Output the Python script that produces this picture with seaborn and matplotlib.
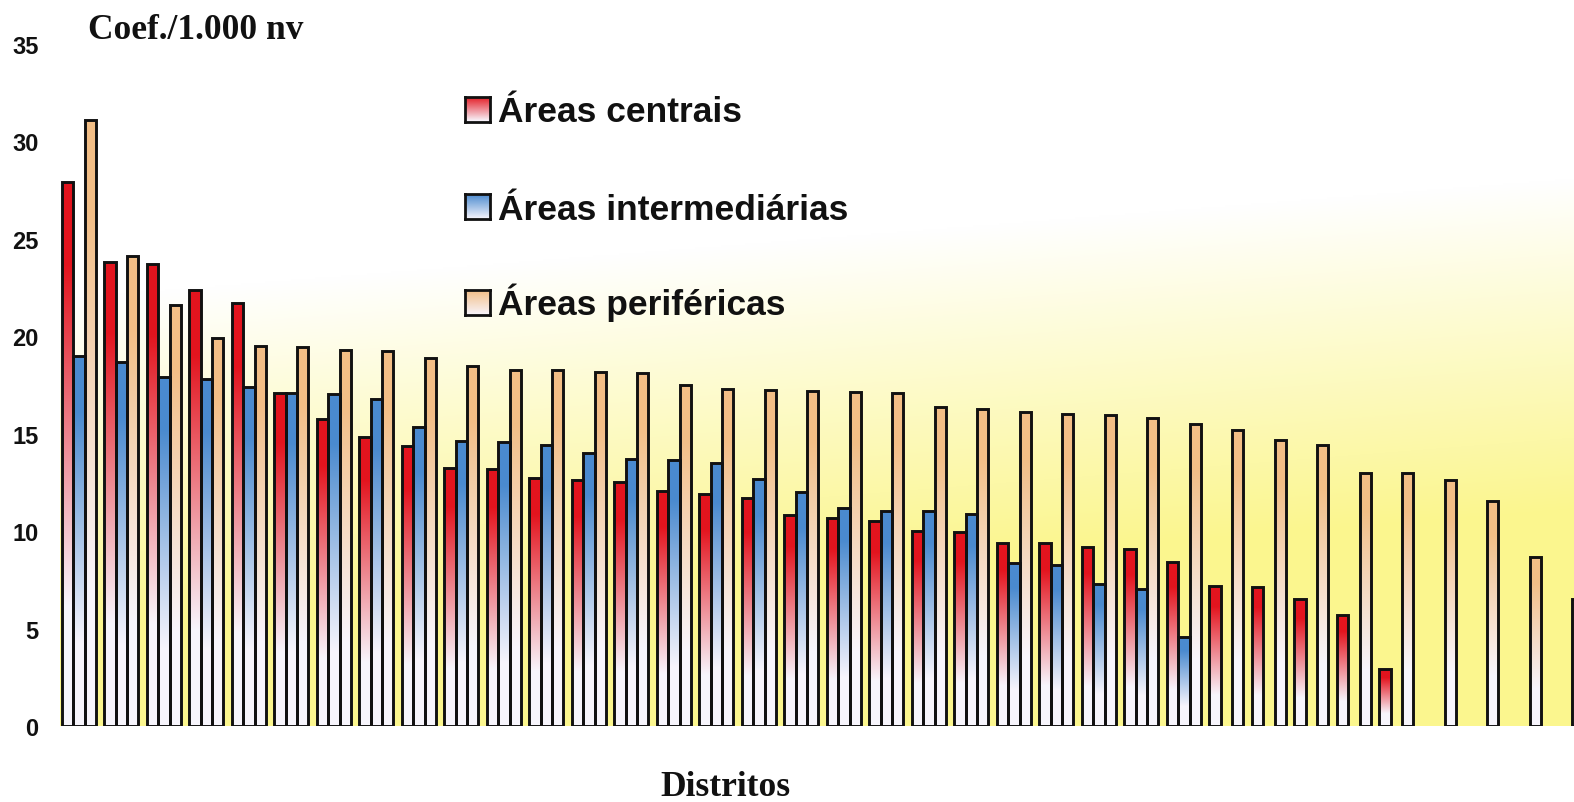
import numpy as np
import pandas as pd
import matplotlib
matplotlib.use("Agg")
import matplotlib.pyplot as plt
import matplotlib.colors as mcolors
import seaborn as sns

nan = np.nan

# District positions along the horizontal axis (labels are not printed)
distritos = [str(i) for i in range(1, 37)]

# Coefficient per 1,000 live births, by district and area type
centrais = [27.9, 23.8, 23.7, 22.4, 21.7, 17.1, 15.75, 14.85, 14.35, 13.25,
            13.2, 12.75, 12.65, 12.5, 12.05, 11.9, 11.7, 10.85, 10.7, 10.5,
            10.0, 9.95, 9.4, 9.4, 9.2, 9.1, 8.4, 7.2, 7.15, 6.5,
            5.7, 2.9, nan, nan, nan, nan]
intermediarias = [19.0, 18.7, 17.9, 17.8, 17.4, 17.1, 17.05, 16.8, 15.35, 14.65,
                  14.55, 14.4, 14.0, 13.7, 13.65, 13.5, 12.7, 12.0, 11.2, 11.05,
                  11.05, 10.9, 8.35, 8.25, 7.3, 7.05, 4.55, nan, nan, nan,
                  nan, nan, nan, nan, nan, nan]
perifericas = [31.1, 24.1, 21.6, 19.9, 19.5, 19.45, 19.3, 19.25, 18.9, 18.5,
               18.25, 18.25, 18.15, 18.1, 17.5, 17.3, 17.25, 17.2, 17.15, 17.1,
               16.35, 16.25, 16.1, 16.0, 15.95, 15.8, 15.5, 15.2, 14.7, 14.4,
               13.0, 13.0, 12.6, 11.55, 8.65, 6.5]

series_names = ["Áreas centrais", "Áreas intermediárias", "Áreas periféricas"]
top_colors = ["#E3141E", "#4A8ACF", "#F2BE86"]
y_ticks = [0, 5, 10, 15, 20, 25, 30, 35]

rows = []
for name, vals in zip(series_names, [centrais, intermediarias, perifericas]):
    for d, v in zip(distritos, vals):
        if not np.isnan(v):
            rows.append({"Distrito": d, "Área": name, "Coef": v})
df = pd.DataFrame(rows)

W, H, DPI = 1574, 803, 100
fig = plt.figure(figsize=(W / DPI, H / DPI), dpi=DPI, facecolor="white")
ax_left, ax_right, ax_top, ax_bottom = 60, 1574, 45, 727
ax = fig.add_axes([ax_left / W, 1 - ax_bottom / H,
                   (ax_right - ax_left) / W, (ax_bottom - ax_top) / H])
ax.patch.set_visible(False)

sns.barplot(data=df, x="Distrito", y="Coef", hue="Área", order=distritos,
            hue_order=series_names, palette=top_colors, width=0.8,
            edgecolor="#111111", linewidth=2.1, errorbar=None, legend=False,
            ax=ax, zorder=3)

BASE = np.array([0.972, 0.962, 0.99])


def vertical_gradient(top_hex, n=256, lo=0.22, hi=0.85):
    """Column of colours running from near-white at the bottom to top_hex."""
    top = np.array(mcolors.to_rgb(top_hex))
    s = np.linspace(0, 1, n)
    m = np.clip((s - lo) / (hi - lo), 0, 1)[:, None]
    col = BASE * (1 - m) + top * m
    return col[:, None, :]


# Replace the flat bar fill by a vertical gradient clipped to each bar
for container, col in zip(ax.containers, top_colors):
    grad = vertical_gradient(col)
    for bar in container:
        h = bar.get_height()
        if not np.isfinite(h) or h <= 0:
            continue
        x0, w = bar.get_x(), bar.get_width()
        im = ax.imshow(grad, extent=[x0, x0 + w, 0, h], origin="lower",
                       aspect="auto", interpolation="bilinear", zorder=2)
        im.set_clip_path(bar)
        bar.set_facecolor("none")

# Plot-area background: white at the top fading into yellow towards bottom right
bg_h, bg_w = 341, 757
xs = np.linspace(ax_left, ax_right, bg_w)
ys = np.linspace(ax_top, ax_bottom, bg_h)
X, Y = np.meshgrid(xs, ys)
y0 = 300 - 120 * (X - ax_left) / (ax_right - ax_left)
t = np.clip((Y - y0) / 330, 0, 1)[..., None]
yellow = np.array([0.985, 0.965, 0.56])
bg = (1 - t) + yellow * t
ax.imshow(bg, extent=[0, 1, 0, 1], transform=ax.transAxes, origin="upper",
          aspect="auto", interpolation="bilinear", zorder=0)

ax.set_xlim(-0.447, 35.18)
ax.set_ylim(0, 35)
ax.set_xticks([])
ax.set_yticks(y_ticks)
ax.set_yticklabels([str(v) for v in y_ticks], fontfamily="Liberation Sans",
                   fontweight="bold", fontsize=17, color="#111111")
ax.tick_params(axis="y", length=0, pad=15.5)
ax.set_xlabel("")
ax.set_ylabel("")
for sp in ax.spines.values():
    sp.set_visible(False)

fig.text(88 / W, 1 - 39 / H, "Coef./1.000 nv", fontfamily="Liberation Serif",
         fontweight="bold", fontsize=25.5, color="#111111", ha="left", va="baseline")
fig.text(725 / W, 1 - 796 / H, "Distritos", fontfamily="Liberation Serif",
         fontweight="bold", fontsize=25.5, color="#111111", ha="center", va="baseline")

# Legend: gradient squares with bold labels
legend_rows = [110, 207, 303]
for name, col, yc in zip(series_names, top_colors, legend_rows):
    sq = fig.add_axes([465 / W, 1 - (yc + 12.5) / H, 25 / W, 25 / H])
    sq.imshow(vertical_gradient(col, lo=0.0, hi=1.0), origin="lower",
              aspect="auto", extent=[0, 1, 0, 1], interpolation="bilinear")
    sq.set_xticks([])
    sq.set_yticks([])
    for sp in sq.spines.values():
        sp.set_linewidth(2.0)
        sp.set_color("#111111")
    fig.text(498 / W, 1 - (yc + 12.5) / H, name, fontfamily="Liberation Sans",
             fontweight="bold", fontsize=25.5, color="#111111",
             ha="left", va="baseline")

fig.savefig("out.png", dpi=DPI, facecolor="white")
